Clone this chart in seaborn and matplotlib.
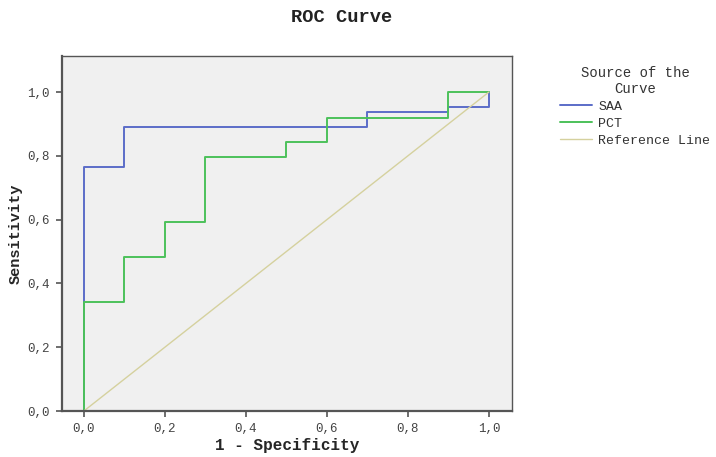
import matplotlib
matplotlib.use("Agg")
import matplotlib.pyplot as plt
import pandas as pd
import seaborn as sns

sns.set_style("ticks")
plt.rcParams['font.family'] = ['Liberation Mono', 'DejaVu Sans Mono']

# ROC vertices (1 - specificity, sensitivity), drawn as post steps
saa_fpr = [0.0, 0.0, 0.1, 0.7, 0.9, 1.0]
saa_tpr = [0.0, 0.765, 0.889, 0.938, 0.954, 1.0]
pct_fpr = [0.0, 0.0, 0.1, 0.2, 0.3, 0.5, 0.6, 0.9, 1.0]
pct_tpr = [0.0, 0.343, 0.482, 0.592, 0.797, 0.844, 0.920, 1.0, 1.0]
ref_x = [0.0, 1.0]
ref_y = [0.0, 1.0]

tick_vals = [0.0, 0.2, 0.4, 0.6, 0.8, 1.0]
tick_labels = ["0,0", "0,2", "0,4", "0,6", "0,8", "1,0"]

colors = {'SAA': '#5b6dc8', 'PCT': '#4cc15a', 'Reference Line': '#d5d19e'}

fig = plt.figure(figsize=(7.16, 4.57), dpi=100)
ax = fig.add_axes([62 / 716, 46 / 457, 450 / 716, 355 / 457])
ax.set_facecolor('#f0f0f0')

saa = pd.DataFrame({'fpr': saa_fpr, 'tpr': saa_tpr})
pct = pd.DataFrame({'fpr': pct_fpr, 'tpr': pct_tpr})
ref = pd.DataFrame({'fpr': ref_x, 'tpr': ref_y})

sns.lineplot(ax=ax, data=saa, x='fpr', y='tpr', sort=False, estimator=None,
             drawstyle='steps-post', color=colors['SAA'], lw=1.4, label='SAA')
sns.lineplot(ax=ax, data=pct, x='fpr', y='tpr', sort=False, estimator=None,
             drawstyle='steps-post', color=colors['PCT'], lw=1.4, label='PCT')
sns.lineplot(ax=ax, data=ref, x='fpr', y='tpr', sort=False, estimator=None,
             color=colors['Reference Line'], lw=1.0, label='Reference Line')

ax.set_xlim(-0.054, 1.057)
ax.set_ylim(0, 1.113)
ax.set_xticks(tick_vals)
ax.set_xticklabels(tick_labels)
ax.set_yticks(tick_vals)
ax.set_yticklabels(tick_labels)
ax.tick_params(direction='out', length=4, width=1.2, colors='#555555',
               labelsize=9, labelcolor='#444444', pad=5)
for s in ax.spines.values():
    s.set_color('#555555')
    s.set_linewidth(1.0)
ax.spines['left'].set_linewidth(1.6)
ax.spines['bottom'].set_linewidth(1.6)

ax.set_xlabel("1 - Specificity", fontsize=11.5, fontweight='bold', labelpad=2)
ax.set_ylabel("Sensitivity", fontsize=11, fontweight='bold', labelpad=3)
fig.text(342 / 716, 1 - 17 / 457, "ROC Curve", ha='center', va='center',
         fontsize=13.5, fontweight='bold', color='#222222')

ax.get_legend().remove()
handles, labels = ax.get_legend_handles_labels()
leg = fig.legend(handles, labels, title="Source of the\nCurve",
                 loc='upper left', bbox_to_anchor=(548 / 716, 1 - 54 / 457),
                 frameon=False, fontsize=9.5, title_fontsize=10,
                 handlelength=2.4, handletextpad=0.5, labelspacing=0.35,
                 alignment='center')
leg.get_title().set_multialignment('center')
leg.get_title().set_color('#333333')
for t in leg.get_texts():
    t.set_color('#333333')

fig.savefig("out.png", dpi=100)
